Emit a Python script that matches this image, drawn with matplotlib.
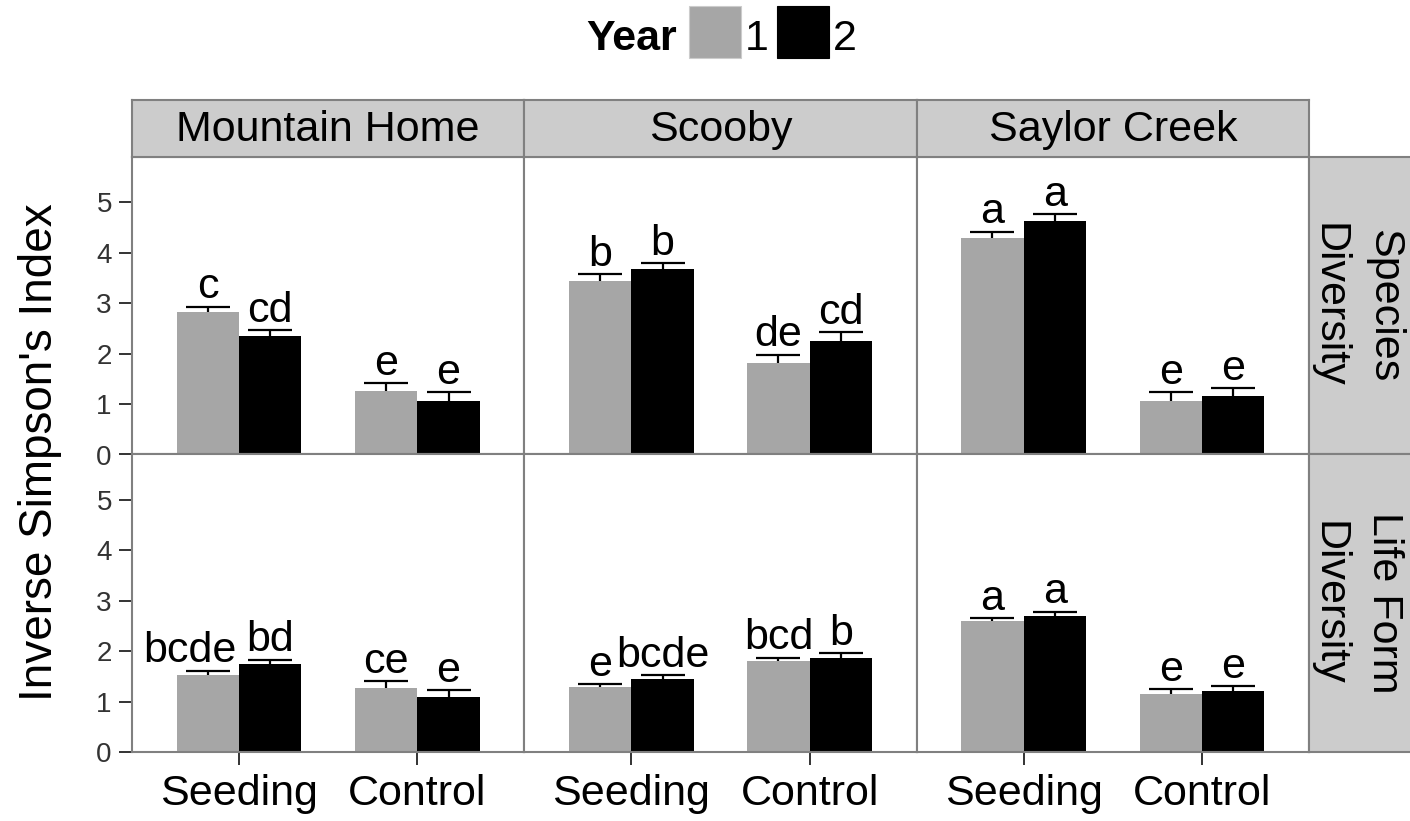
import numpy as np
import matplotlib
matplotlib.use("Agg")
import matplotlib.pyplot as plt
from matplotlib.patches import Rectangle

plt.rcParams['font.family'] = ['Liberation Sans', 'DejaVu Sans']

# facets and categories
sites = ["Mountain Home", "Scooby", "Saylor Creek"]
treatments = ["Seeding", "Control"]
row_names = ["Species\nDiversity", "Life Form\nDiversity"]
years = ["1", "2"]

# Species diversity: per site [Seeding, Control]
species_y1 = [[2.82, 1.26], [3.45, 1.82], [4.29, 1.07]]
species_y2 = [[2.35, 1.07], [3.67, 2.26], [4.64, 1.16]]
species_se1 = [[0.11, 0.15], [0.12, 0.16], [0.13, 0.17]]
species_se2 = [[0.11, 0.17], [0.12, 0.16], [0.12, 0.16]]
species_let1 = [["c", "e"], ["b", "de"], ["a", "e"]]
species_let2 = [["cd", "e"], ["b", "cd"], ["a", "e"]]

# Life form diversity
life_y1 = [[1.53, 1.27], [1.28, 1.80], [2.59, 1.15]]
life_y2 = [[1.75, 1.10], [1.45, 1.87], [2.70, 1.20]]
life_se1 = [[0.08, 0.13], [0.06, 0.07], [0.06, 0.09]]
life_se2 = [[0.08, 0.13], [0.07, 0.09], [0.08, 0.10]]
life_let1 = [["bcde", "ce"], ["e", "bcd"], ["a", "e"]]
life_let2 = [["bd", "e"], ["bcde", "b"], ["a", "e"]]

rows = [
    (species_y1, species_y2, species_se1, species_se2, species_let1, species_let2),
    (life_y1, life_y2, life_se1, life_se2, life_let1, life_let2),
]

GREY = "#a6a6a6"
STRIP = "#cccccc"
BORDER = "#808080"
W, H = 1410, 821

fig = plt.figure(figsize=(W / 100, H / 100), dpi=100)


def box(l, t, w, h):
    return [l / W, 1 - (t + h) / H, w / W, h / H]


px0, px1 = 132, 1309
pw = (px1 - px0) / 3
ptop, pbot = 157, 752
ph = (pbot - ptop) / 2
x = np.arange(1, len(treatments) + 1)
bw = 0.35

for r, (y1, y2, s1, s2, l1, l2) in enumerate(rows):
    for c, site in enumerate(sites):
        ax = fig.add_axes(box(px0 + c * pw, ptop + r * ph, pw, ph))
        ax.errorbar(x - bw / 2, y1[c], yerr=s1[c], fmt="none", ecolor="black",
                    elinewidth=1.6, capsize=15.5, capthick=1.6, zorder=1)
        ax.errorbar(x + bw / 2, y2[c], yerr=s2[c], fmt="none", ecolor="black",
                    elinewidth=1.6, capsize=15.5, capthick=1.6, zorder=1)
        ax.bar(x - bw / 2, y1[c], bw, color=GREY, zorder=2)
        ax.bar(x + bw / 2, y2[c], bw, color="black", zorder=2)
        for k in range(len(treatments)):
            for dx, yv, se, lab in ((-bw / 2, y1[c][k], s1[c][k], l1[c][k]),
                                    (bw / 2, y2[c][k], s2[c][k], l2[c][k])):
                # one long label is pushed left so it clears its neighbour
                nudge = -0.1 if (r == 1 and c == 0 and k == 0 and dx < 0) else 0
                ax.annotate(lab, (x[k] + dx + nudge, yv + se), xytext=(0, 6),
                            textcoords="offset points", ha="center",
                            va="baseline", fontsize=31)
        ax.set_xlim(0.4, 2.6)
        ax.set_ylim(0, 5.9)
        for sp in ax.spines.values():
            sp.set_color(BORDER)
            sp.set_linewidth(1.5)
        ax.set_yticks(range(6))
        ax.set_xticks(x)
        ax.tick_params(axis="both", length=9.5, width=1.4, color="#333333",
                       labelcolor="#333333")
        ax.tick_params(axis="y", labelsize=20, pad=5)
        ax.tick_params(axis="x", labelsize=31, pad=6, labelcolor="black")
        if c == 0:
            ax.set_yticklabels([str(v) for v in range(6)])
        else:
            ax.tick_params(axis="y", left=False, labelleft=False)
        if r == 1:
            ax.set_xticklabels(treatments)
        else:
            ax.tick_params(axis="x", bottom=False, labelbottom=False)

        if r == 0:
            sax = fig.add_axes(box(px0 + c * pw, 100, pw, 57))
            sax.set_facecolor(STRIP)
            sax.set_xticks([])
            sax.set_yticks([])
            for sp in sax.spines.values():
                sp.set_color(BORDER)
                sp.set_linewidth(1.5)
            sax.text(0.5, 0.47, site, ha="center", va="center", fontsize=31,
                     transform=sax.transAxes)

    rax = fig.add_axes(box(px1, ptop + r * ph, 104, ph))
    rax.set_facecolor(STRIP)
    rax.set_xticks([])
    rax.set_yticks([])
    for sp in rax.spines.values():
        sp.set_color(BORDER)
        sp.set_linewidth(1.5)
    rax.text(0.45, 0.5, row_names[r], ha="center", va="center", fontsize=31,
             rotation=-90, linespacing=1.5, transform=rax.transAxes)

fig.text(40 / W, 1 - 452 / H, "Inverse Simpson's Index", rotation=90,
         ha="center", va="center", fontsize=33)

# legend
fig.text(677 / W, 1 - 50 / H, "Year", ha="right", va="baseline",
         fontsize=31, fontweight="bold")
for i, (col, lab) in enumerate(zip([GREY, "black"], years)):
    lx = 689 + i * 88
    fig.patches.append(Rectangle((lx / W, 1 - 58 / H), 52 / W, 52 / H,
                                 transform=fig.transFigure, facecolor=col,
                                 edgecolor="#cccccc" if i == 0 else "black",
                                 lw=0.8))
    fig.text((lx + 56) / W, 1 - 50 / H, lab, ha="left", va="baseline",
             fontsize=31)

fig.savefig("out.png", dpi=100)
